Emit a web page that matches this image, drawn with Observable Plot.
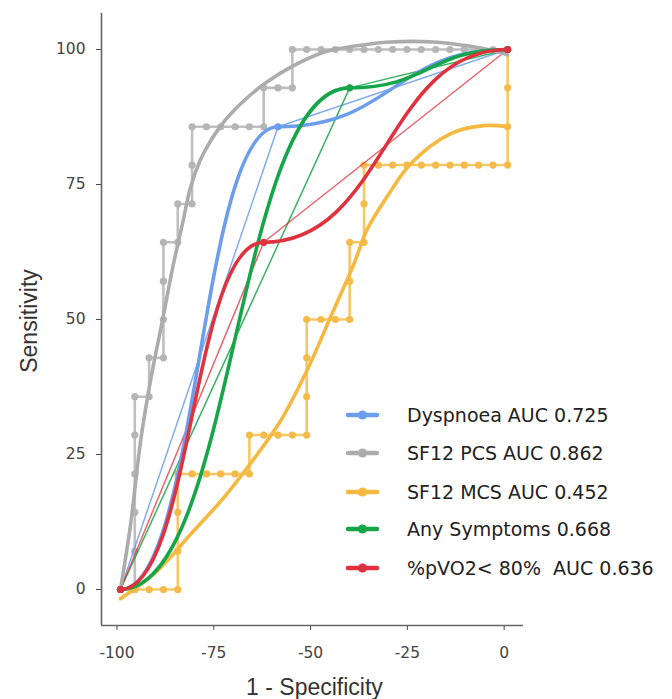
<!DOCTYPE html>
<html><head><meta charset="utf-8">
<script src="https://cdn.jsdelivr.net/npm/d3@7"></script>
<script src="https://cdn.jsdelivr.net/npm/@observablehq/plot@0.6"></script>
<style>body{margin:0;background:#fff} #chart{width:672px;height:699px}</style>
</head><body><div id="chart"></div>
<script>
// ---- axes
const ticksX = [-100, -75, -50, -25, 0];
const ticksY = [0, 25, 50, 75, 100];
const xDomain = [-104, 5];
const yDomain = [-6.67, 106.67];
const xTitle = "1 - Specificity";
const yTitle = "Sensitivity";

// ---- legend
const seriesNames = ["Dyspnoea AUC 0.725", "SF12 PCS AUC 0.862", "SF12 MCS AUC 0.452", "Any Symptoms 0.668", "%pVO2< 80%  AUC 0.636"];
const seriesColors = ["#6d9eeb", "#acacac", "#f5b841", "#16a549", "#e0313e"];

// ---- SF12 PCS empirical steps (grey)
const pcsStepX = [-99.1, -95.4, -95.4, -95.4, -95.4, -95.4, -95.4, -91.7, -91.7, -88.0, -88.0, -88.0, -88.0, -84.3, -84.3, -80.6, -80.6, -80.6, -76.9, -73.2, -69.5, -65.8, -62.1, -62.1, -58.4, -54.7, -54.7, -51.0, -47.3, -43.6, -39.9, -36.2, -32.5, -28.8, -25.1, -21.4, -17.7, -14.0, -10.3, -6.6, -2.9, 0.9];
const pcsStepY = [0, 0, 7.1, 14.3, 21.4, 28.6, 35.7, 35.7, 42.9, 42.9, 50, 57.1, 64.3, 64.3, 71.4, 71.4, 78.6, 85.7, 85.7, 85.7, 85.7, 85.7, 85.7, 92.9, 92.9, 92.9, 100, 100, 100, 100, 100, 100, 100, 100, 100, 100, 100, 100, 100, 100, 100, 100];
// SF12 PCS smooth curve
const pcsSmoothX = [-99.1, -96.5, -93.8, -91.0, -88.2, -85.5, -83.0, -81.0, -78.5, -75.8, -72.5, -69.8, -66.0, -62.0, -55.2, -46.6, -38.0, -29.4, -18.2, -9.6, -2.8, 0.9];
const pcsSmoothY = [0, 12, 28, 40, 50, 60, 68, 74.5, 79.5, 83.1, 86.5, 88.7, 91.3, 93.6, 96.7, 99.5, 100.7, 101.4, 101.4, 100.7, 99.8, 99.0];

// ---- SF12 MCS empirical steps (orange)
const mcsStepX = [-99.1, -95.4, -91.7, -88.0, -84.3, -84.3, -84.3, -84.3, -80.6, -76.9, -73.2, -69.5, -65.8, -65.8, -62.1, -58.4, -54.7, -51.0, -51.0, -51.0, -51.0, -47.3, -43.6, -39.9, -39.9, -39.9, -36.2, -36.2, -36.2, -32.5, -28.8, -25.1, -21.4, -17.7, -14.0, -10.3, -6.6, -2.9, 0.9, 0.9, 0.9, 0.9];
const mcsStepY = [0, 0, 0, 0, 0, 7.1, 14.3, 21.4, 21.4, 21.4, 21.4, 21.4, 21.4, 28.6, 28.6, 28.6, 28.6, 28.6, 35.7, 42.9, 50, 50, 50, 50, 57.1, 64.3, 64.3, 71.4, 78.6, 78.6, 78.6, 78.6, 78.6, 78.6, 78.6, 78.6, 78.6, 78.6, 78.6, 85.7, 92.9, 100];
// SF12 MCS smooth curve
const mcsSmoothX = [-99.1, -89.5, -80.9, -72.3, -63.7, -57.7, -50.9, -44.5, -38.8, -35.5, -30.0, -24.2, -13.9, -5.3, 0.9];
const mcsSmoothY = [-1.7, 3.5, 10.3, 17.1, 25.1, 31.3, 40.6, 51.0, 60.3, 66.5, 73.0, 78.8, 84.4, 85.9, 85.7];

// ---- binary predictors (single cut-off)
const dysX = [-99.1, -58.4, 0.9];
const dysY = [0, 85.7, 100];
const anyX = [-99.1, -39.9, 0.9];
const anyY = [0, 92.9, 100];
const vo2X = [-99.1, -62.1, 0.9];
const vo2Y = [0, 64.3, 100];

const zip = (xs, ys) => xs.map((x, i) => ({x, y: ys[i]}));
const pcsStep = zip(pcsStepX, pcsStepY);
const pcsSmooth = zip(pcsSmoothX, pcsSmoothY);
const mcsStep = zip(mcsStepX, mcsStepY);
const mcsSmooth = zip(mcsSmoothX, mcsSmoothY);
const dys = zip(dysX, dysY);
const anyS = zip(anyX, anyY);
const vo2 = zip(vo2X, vo2Y);

const [cBlue, cGrey, cOrange, cGreen, cRed] = seriesColors;
const thick = 3.6, thin = 1.5;

const plot = Plot.plot({
  width: 672, height: 699,
  marginLeft: 101, marginRight: 149, marginTop: 13, marginBottom: 74,
  x: {domain: xDomain, ticks: ticksX, tickSize: 5, tickPadding: 16, label: null, tickFormat: d => String(d)},
  y: {domain: yDomain, ticks: ticksY, tickSize: 5, tickPadding: 11, label: null, tickFormat: d => String(d)},
  style: {fontFamily: "DejaVu Sans", fontSize: "15.5px", color: "#444", background: "#fff", overflow: "visible"},
  marks: [
    Plot.ruleX([xDomain[0]], {stroke: "#666", strokeWidth: 1.6}),
    Plot.ruleY([yDomain[0]], {stroke: "#666", strokeWidth: 1.6}),
    // empirical steps
    Plot.line(pcsStep, {x: "x", y: "y", stroke: "#bfbfbf", strokeWidth: 2.6}),
    Plot.line(mcsStep, {x: "x", y: "y", stroke: "#f7c766", strokeWidth: 2.6}),
    Plot.dot(pcsStep, {x: "x", y: "y", fill: "#b5b5b5", r: 3.6}),
    Plot.dot(mcsStep, {x: "x", y: "y", fill: "#f5bb4a", r: 3.6}),
    // thin straight ROC lines
    Plot.line(dys, {x: "x", y: "y", stroke: cBlue, strokeWidth: thin, strokeOpacity: 0.85}),
    Plot.line(anyS, {x: "x", y: "y", stroke: cGreen, strokeWidth: thin, strokeOpacity: 0.85}),
    Plot.line(vo2, {x: "x", y: "y", stroke: cRed, strokeWidth: thin, strokeOpacity: 0.75}),
    // smooth curves
    Plot.line(pcsSmooth, {x: "x", y: "y", stroke: cGrey, strokeWidth: thick, curve: "catmull-rom"}),
    Plot.line(mcsSmooth, {x: "x", y: "y", stroke: cOrange, strokeWidth: thick, curve: "catmull-rom"}),
    Plot.line(dys, {x: "x", y: "y", stroke: cBlue, strokeWidth: thick, curve: "bump-x"}),
    Plot.line(anyS, {x: "x", y: "y", stroke: cGreen, strokeWidth: thick, curve: "bump-x"}),
    Plot.line(vo2, {x: "x", y: "y", stroke: cRed, strokeWidth: thick, curve: "bump-x"}),
    Plot.dot(dys, {x: "x", y: "y", fill: cBlue, r: 3.6}),
    Plot.dot(anyS, {x: "x", y: "y", fill: cGreen, r: 3.6}),
    Plot.dot(vo2, {x: "x", y: "y", fill: cRed, r: 3.6})
  ]
});
document.getElementById("chart").appendChild(plot);

const svg = d3.select(plot);
svg.append("text").attr("x", 314.5).attr("y", 695).attr("text-anchor", "middle")
  .attr("font-family", "Liberation Sans, Arial, sans-serif").attr("font-size", 23).attr("fill", "#333").text(xTitle);
svg.append("text").attr("transform", "translate(37,321) rotate(-90)").attr("text-anchor", "middle")
  .attr("font-family", "Liberation Sans, Arial, sans-serif").attr("font-size", 23).attr("fill", "#333").text(yTitle);

const legendRows = [415, 453, 492, 529, 568];
const lg = svg.append("g").attr("transform", "translate(347,0)");
seriesNames.forEach((name, i) => {
  const g = lg.append("g").attr("transform", `translate(0,${legendRows[i]})`);
  g.append("line").attr("x1", 1).attr("x2", 30).attr("stroke", seriesColors[i]).attr("stroke-width", 4.5).attr("stroke-linecap", "round");
  g.append("circle").attr("cx", 15.5).attr("r", 4.6).attr("fill", seriesColors[i]);
  g.append("text").attr("x", 60).attr("y", 0).attr("dy", "0.36em").attr("text-anchor", "start")
    .attr("font-family", "DejaVu Sans").attr("font-size", 19).attr("fill", "#222").style("white-space", "pre").text(name);
});
</script>
</body></html>
